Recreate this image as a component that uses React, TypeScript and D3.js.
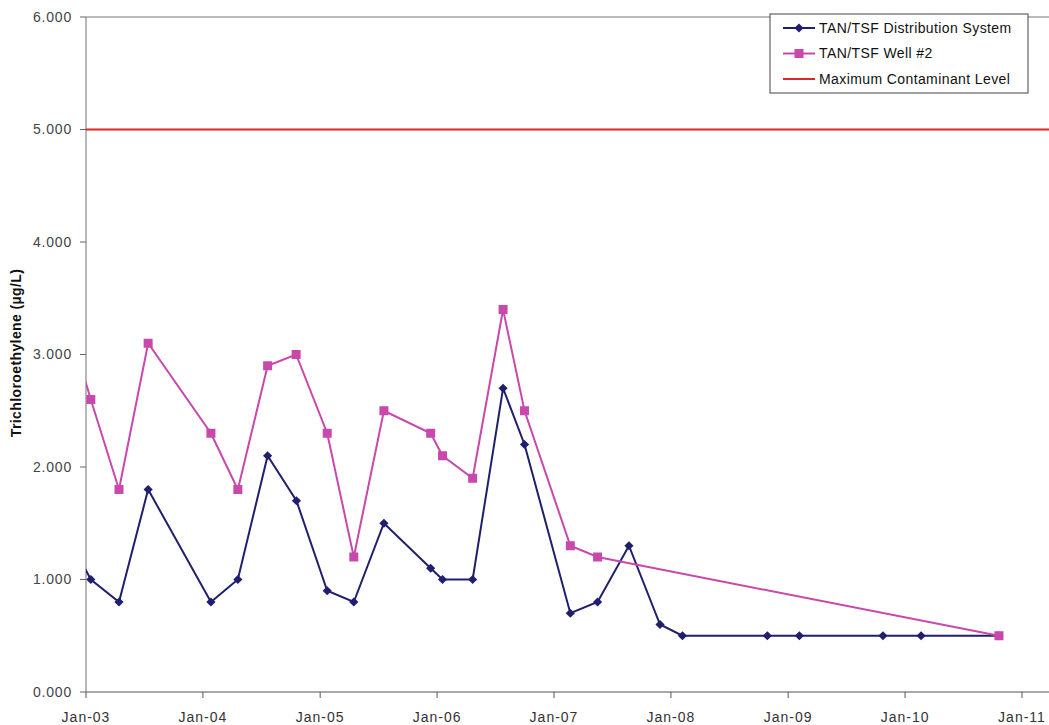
import React from "react";
import * as d3 from "d3";

// Sampling dates and TCE concentrations (µg/L)
const distDates = [
  "2002-10-15", "2003-01-16", "2003-04-14", "2003-07-14", "2004-01-26", "2004-04-19",
  "2004-07-21", "2004-10-19", "2005-01-23", "2005-04-16", "2005-07-19", "2005-12-12",
  "2006-01-18", "2006-04-22", "2006-07-26", "2006-10-01", "2007-02-21", "2007-05-17",
  "2007-08-23", "2007-11-28", "2008-02-06", "2008-10-28", "2009-02-05", "2009-10-24",
  "2010-02-20", "2010-10-21",
];
const distValues = [
  1.5, 1.0, 0.8, 1.8, 0.8, 1.0,
  2.1, 1.7, 0.9, 0.8, 1.5, 1.1,
  1.0, 1.0, 2.7, 2.2, 0.7, 0.8,
  1.3, 0.6, 0.5, 0.5, 0.5, 0.5,
  0.5, 0.5,
];

const wellDates = [
  "2002-10-15", "2003-01-16", "2003-04-14", "2003-07-14", "2004-01-26", "2004-04-19",
  "2004-07-21", "2004-10-18", "2005-01-23", "2005-04-16", "2005-07-19", "2005-12-12",
  "2006-01-18", "2006-04-22", "2006-07-26", "2006-10-01", "2007-02-21", "2007-05-17",
  "2010-10-21",
];
const wellValues = [
  3.5, 2.6, 1.8, 3.1, 2.3, 1.8,
  2.9, 3.0, 2.3, 1.2, 2.5, 2.3,
  2.1, 1.9, 3.4, 2.5, 1.3, 1.2,
  0.5,
];

const mclValue = 5.0;

const yTicks = [0, 1, 2, 3, 4, 5, 6];
const xTickYears = [2003, 2004, 2005, 2006, 2007, 2008, 2009, 2010, 2011];

const seriesNames = [
  "TAN/TSF Distribution System",
  "TAN/TSF Well #2",
  "Maximum Contaminant Level",
];

const W = 1049;
const H = 725;
const left = 86;
const top = 17;
const bottom = 692;
const right = 1049;

const NAVY = "#1f1f6e";
const PINK = "#c848ac";
const RED = "#dd2626";
const FONT = "'Liberation Sans', Arial, sans-serif";

const parse = d3.timeParse("%Y-%m-%d");

// square diamond marker, centred on the origin
const DIAMOND = "M0,-4.6L4.6,0L0,4.6L-4.6,0Z";

export default function App() {
  const x = d3
    .scaleTime()
    .domain([new Date(2003, 0, 1), new Date(2011, 0, 1)])
    .range([left, 1022]);
  const y = d3.scaleLinear().domain([0, 6]).range([bottom, top]);

  const dist = distDates.map((d, i) => ({ date: parse(d) as Date, v: distValues[i] }));
  const well = wellDates.map((d, i) => ({ date: parse(d) as Date, v: wellValues[i] }));

  const line = d3
    .line<{ date: Date; v: number }>()
    .x((d) => x(d.date))
    .y((d) => y(d.v));

  const fmtY = d3.format(".3f");
  const fmtX = d3.timeFormat("%b-%y");

  return (
    <svg
      width={W}
      height={H}
      style={{ position: "absolute", left: 0, top: 0, background: "#fff" }}
      fontFamily={FONT}
    >
      <defs>
        <clipPath id="plot">
          <rect x={left} y={top} width={right - left} height={bottom - top} />
        </clipPath>
      </defs>

      {/* plot frame */}
      <line x1={left} x2={right} y1={top} y2={top} stroke="#777" strokeWidth={1} />
      <line x1={left} x2={left} y1={top} y2={bottom} stroke="#888" strokeWidth={1.2} />
      <line x1={left} x2={right} y1={bottom} y2={bottom} stroke="#555" strokeWidth={1.2} />

      {/* y axis ticks */}
      {yTicks.map((t) => (
        <g key={"y" + t}>
          <line x1={left - 6} x2={left} y1={y(t)} y2={y(t)} stroke="#666" />
          <text
            x={72}
            y={y(t)}
            dy="0.35em"
            textAnchor="end"
            fontSize={14}
            letterSpacing={0.8}
            fill="#444"
          >
            {fmtY(t)}
          </text>
        </g>
      ))}

      {/* x axis ticks */}
      {xTickYears.map((yr) => {
        const d = new Date(yr, 0, 1);
        return (
          <g key={"x" + yr}>
            <line x1={x(d)} x2={x(d)} y1={bottom} y2={bottom + 6} stroke="#555" />
            <text
              x={x(d)}
              y={722}
              textAnchor="middle"
              fontSize={14}
              letterSpacing={1}
              fill="#333"
            >
              {fmtX(d)}
            </text>
          </g>
        );
      })}

      <text
        transform={`translate(21,353) rotate(-90)`}
        textAnchor="middle"
        fontSize={14}
        letterSpacing={0.4}
        fontWeight="bold"
        fill="#111"
      >
        Trichloroethylene (µg/L)
      </text>

      <g clipPath="url(#plot)">
        {/* maximum contaminant level */}
        <line
          x1={left}
          x2={right}
          y1={y(mclValue)}
          y2={y(mclValue)}
          stroke={RED}
          strokeWidth={2}
        />

        <path d={line(dist) || ""} fill="none" stroke={NAVY} strokeWidth={2} />
        {dist.map((d, i) => (
          <path
            key={"d" + i}
            d={DIAMOND}
            transform={`translate(${x(d.date)},${y(d.v)})`}
            fill={NAVY}
          />
        ))}

        <path d={line(well) || ""} fill="none" stroke={PINK} strokeWidth={2} />
        {well.map((d, i) => (
          <rect
            key={"w" + i}
            x={x(d.date) - 4.5}
            y={y(d.v) - 4.5}
            width={9}
            height={9}
            fill={PINK}
          />
        ))}
      </g>

      {/* legend */}
      <g>
        <rect x={770} y={14} width={258} height={79} fill="#fff" stroke="#444" strokeWidth={1} />
        {seriesNames.map((name, i) => {
          const cy = 28 + i * 25.5;
          const color = i === 0 ? NAVY : i === 1 ? PINK : RED;
          return (
            <g key={name}>
              <line x1={783} x2={815} y1={cy} y2={cy} stroke={color} strokeWidth={2} />
              {i === 0 && (
                <path d={DIAMOND} transform={`translate(799,${cy})`} fill={NAVY} />
              )}
              {i === 1 && (
                <rect x={799 - 4.5} y={cy - 4.5} width={9} height={9} fill={PINK} />
              )}
              <text
                x={819}
                y={cy}
                dy="0.35em"
                fontSize={14}
                letterSpacing={0.4}
                fill="#111"
              >
                {name}
              </text>
            </g>
          );
        })}
      </g>
    </svg>
  );
}
